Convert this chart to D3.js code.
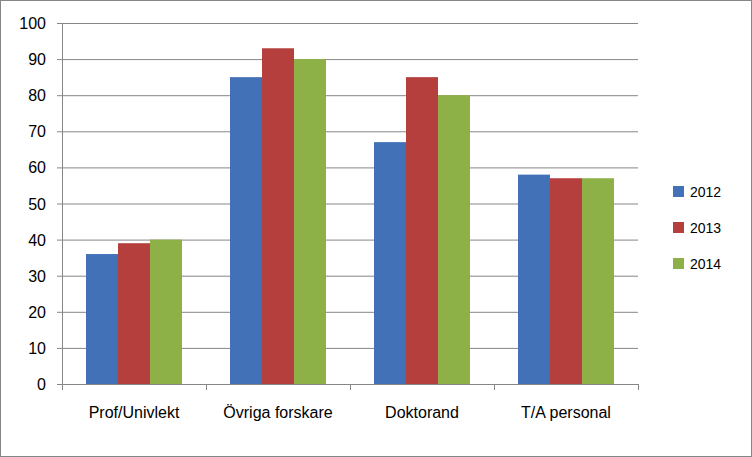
<!DOCTYPE html>
<html><head><meta charset="utf-8">
<script src="https://d3js.org/d3.v7.min.js"></script>
<style>body{margin:0;background:#fff}</style></head>
<body><svg id="c" width="752" height="457"></svg>
<script>
const categories = ["Prof/Univlekt","Övriga forskare","Doktorand","T/A personal"];
const seriesNames = ["2012","2013","2014"];
const values2012 = [36,85,67,58];
const values2013 = [39,93,85,57];
const values2014 = [40,90,80,57];
const yTicks = [0,10,20,30,40,50,60,70,80,90,100];
const colors = ["#4271B8","#B43F3D","#8DB146"];
const series = [values2012,values2013,values2014];

const svg = d3.select("#c");
svg.append("rect").attr("x",0.5).attr("y",0.5).attr("width",751).attr("height",456)
  .attr("fill","#fff").attr("stroke","#868686");
const L=62,R=638,T=23,B=384;
const x = d3.scaleBand().domain(categories).range([L,R]);
const xi = d3.scaleBand().domain(seriesNames).range([0,x.bandwidth()]).paddingOuter(0.75).paddingInner(0);
const y = d3.scaleLinear().domain([0,100]).range([B,T]);
const font = "Liberation Sans, Arial, sans-serif";

svg.append("g").selectAll("line").data(yTicks).join("line")
  .attr("x1",L).attr("x2",R).attr("y1",d=>y(d)+0.5).attr("y2",d=>y(d)+0.5)
  .attr("stroke","#868686");
svg.append("line").attr("x1",L+0.5).attr("x2",L+0.5).attr("y1",T).attr("y2",B).attr("stroke","#868686");
svg.append("g").selectAll("line").data(yTicks).join("line")
  .attr("x1",L-5).attr("x2",L).attr("y1",d=>y(d)+0.5).attr("y2",d=>y(d)+0.5).attr("stroke","#868686");
svg.append("g").selectAll("line").data(d3.range(categories.length+1)).join("line")
  .attr("x1",d=>L+d*x.step()+0.5).attr("x2",d=>L+d*x.step()+0.5).attr("y1",B).attr("y2",B+6).attr("stroke","#868686");
svg.append("g").selectAll("text").data(yTicks).join("text")
  .attr("x",L-16).attr("y",d=>y(d)+6).attr("text-anchor","end")
  .attr("font-family",font).attr("font-size",16).text(d=>d);

series.forEach((vals,si)=>{
  svg.append("g").selectAll("rect").data(vals).join("rect")
    .attr("x",(d,i)=>x(categories[i])+xi(seriesNames[si]))
    .attr("width",xi.bandwidth())
    .attr("y",d=>y(d)).attr("height",d=>B-y(d))
    .attr("fill",colors[si]);
});

svg.append("g").selectAll("text").data(categories).join("text")
  .attr("x",d=>x(d)+x.bandwidth()/2).attr("y",418).attr("text-anchor","middle")
  .attr("font-family",font).attr("font-size",16).text(d=>d);

const lg = svg.append("g").selectAll("g").data(seriesNames).join("g")
  .attr("transform",(d,i)=>`translate(673,${186+i*36})`);
lg.append("rect").attr("width",11).attr("height",11).attr("fill",(d,i)=>colors[i]);
lg.append("text").attr("x",17).attr("y",11).attr("font-family",font).attr("font-size",14).text(d=>d);
</script></body></html>
